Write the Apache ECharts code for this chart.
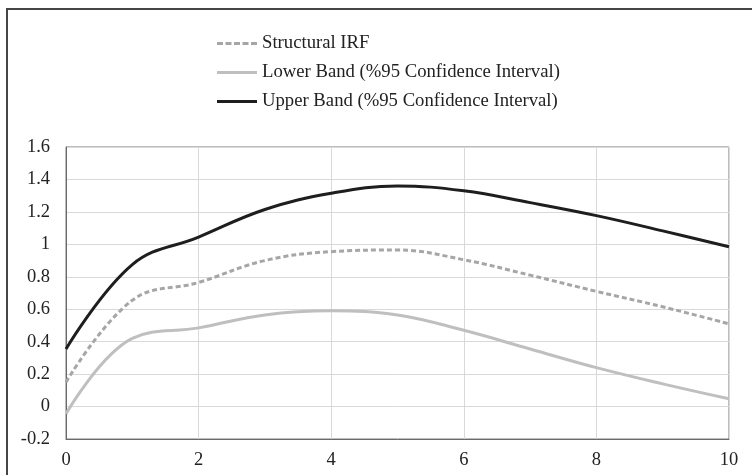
<!DOCTYPE html>
<html>
<head>
<meta charset="utf-8">
<script src="https://cdn.jsdelivr.net/npm/echarts@6/dist/echarts.min.js"></script>
<style>
  html, body { margin: 0; padding: 0; background: #fff; overflow: hidden; width: 752px; height: 475px; }
  #frame { position: absolute; left: 6px; top: 8px; width: 744px; height: 465px;
           border-top: 2px solid #454545; border-left: 2px solid #454545; }
  #chart { position: absolute; left: 0; top: 0; width: 752px; height: 475px; }
</style>
</head>
<body>
<div id="frame"></div>
<div id="chart"></div>
<script>
// Data (periods 0..10)
const periods = [0, 1, 2, 3, 4, 5, 6, 7, 8, 9, 10];
const structuralIRF = [0.15, 0.655, 0.765, 0.90, 0.955, 0.965, 0.905, 0.81, 0.71, 0.615, 0.51];
const lowerBand = [-0.045, 0.42, 0.485, 0.565, 0.59, 0.565, 0.47, 0.355, 0.24, 0.14, 0.048];
const upperBand = [0.355, 0.875, 1.045, 1.215, 1.315, 1.36, 1.33, 1.257, 1.177, 1.083, 0.985];
const seriesNames = ['Structural IRF', 'Lower Band (%95 Confidence Interval)', 'Upper Band (%95 Confidence Interval)'];
const yTicks = { min: -0.2, max: 1.6, step: 0.2 };
const xTicks = { min: 0, max: 10, step: 2 };

const pairs = arr => periods.map((p, i) => [p, arr[i]]);
const FONT = 'Liberation Serif';
const DASH_ICON = 'path://M0,0h6v3h-6z M8.5,0h6v3h-6z M17,0h6v3h-6z M25.5,0h6v3h-6z M34,0h6v3h-6z';
const SOLID_ICON = 'path://M0,0h40v3h-40z';

const chart = echarts.init(document.getElementById('chart'), null, { renderer: 'canvas' });
chart.setOption({
  animation: false,
  backgroundColor: 'transparent',
  textStyle: { fontFamily: FONT },
  legend: {
    orient: 'vertical',
    left: 212,
    top: 29,
    itemWidth: 40,
    itemHeight: 3,
    itemGap: 10,
    textStyle: { fontFamily: FONT, fontSize: 18.7, color: '#222' },
    data: [
      { name: seriesNames[0], icon: DASH_ICON },
      { name: seriesNames[1], icon: SOLID_ICON },
      { name: seriesNames[2], icon: SOLID_ICON }
    ]
  },
  grid: {
    left: 66, top: 147, right: 23, bottom: 36,
    show: true, borderColor: '#7a7a7a', borderWidth: 1
  },
  xAxis: {
    type: 'value',
    min: xTicks.min, max: xTicks.max, interval: xTicks.step,
    axisLine: { show: true, onZero: false, lineStyle: { color: '#6a6a6a', width: 1 } },
    axisTick: { show: false },
    axisLabel: { fontFamily: FONT, fontSize: 18.5, color: '#222', margin: 12 },
    splitLine: { show: true, lineStyle: { color: '#d9d9d9', width: 1 } }
  },
  yAxis: {
    type: 'value',
    min: yTicks.min, max: yTicks.max, interval: yTicks.step,
    axisLine: { show: true, onZero: false, lineStyle: { color: '#6a6a6a', width: 1 } },
    axisTick: { show: false },
    axisLabel: { fontFamily: FONT, fontSize: 18.5, color: '#222', margin: 16 },
    splitLine: { show: true, lineStyle: { color: '#d9d9d9', width: 1 } }
  },
  series: [
    {
      name: seriesNames[0], type: 'line', data: pairs(structuralIRF),
      smooth: 0.4, symbol: 'none',
      lineStyle: { color: '#a6a6a6', width: 3, type: [5, 3] },
      itemStyle: { color: '#a6a6a6' }, z: 3
    },
    {
      name: seriesNames[1], type: 'line', data: pairs(lowerBand),
      smooth: 0.4, symbol: 'none',
      lineStyle: { color: '#bfbfbf', width: 3 },
      itemStyle: { color: '#bfbfbf' }, z: 2
    },
    {
      name: seriesNames[2], type: 'line', data: pairs(upperBand),
      smooth: 0.4, symbol: 'none',
      lineStyle: { color: '#1e1e1e', width: 3 },
      itemStyle: { color: '#1e1e1e' }, z: 4
    }
  ]
});
</script>
</body>
</html>
